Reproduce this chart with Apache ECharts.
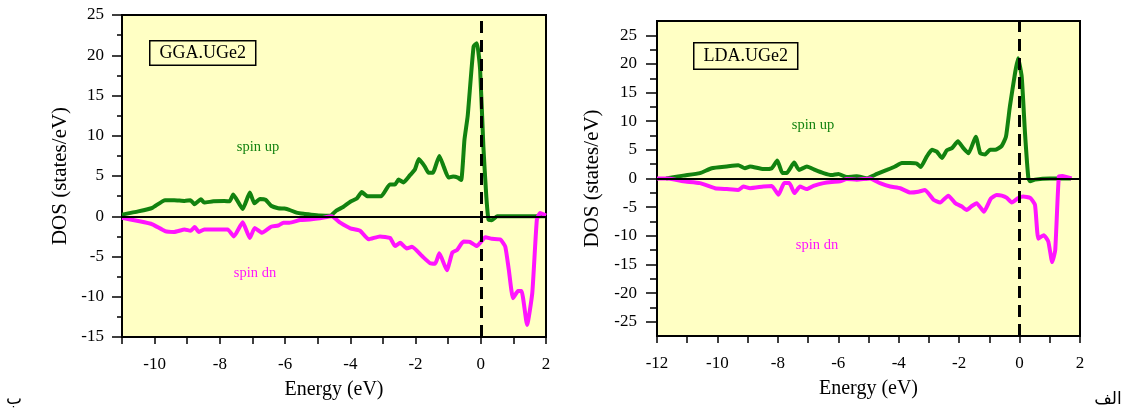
<!DOCTYPE html>
<html>
<head>
<meta charset="utf-8">
<script src="https://cdn.jsdelivr.net/npm/echarts@6/dist/echarts.min.js"></script>
<style>
  html, body { margin: 0; padding: 0; background: #fff; }
  #main { width: 1133px; height: 410px; }
</style>
</head>
<body>
<div id="main"></div>
<script>
// GGA panel (left) - spin up / spin dn
var ggaUpE = [-11, -10.5, -10.07, -9.68, -9.4, -9.08, -8.9, -8.78, -8.58, -8.48, -8.2, -7.87, -7.7, -7.59, -7.3, -7.08, -6.94, -6.77, -6.6, -6.43, -6.21, -6.02, -5.87, -5.65, -5.43, -5.2, -4.93, -4.62, -4.43, -4.22, -4.0, -3.8, -3.65, -3.48, -3.05, -2.79, -2.63, -2.52, -2.37, -2.17, -2.02, -1.9, -1.72, -1.6, -1.47, -1.27, -1.13, -0.99, -0.85, -0.7, -0.6, -0.5, -0.4, -0.22, -0.12, -0.02, 0.08, 0.17, 0.24, 0.34, 0.5, 2.0];
var ggaUpDos = [0.2, 0.6, 1.05, 2.0, 2.0, 1.9, 2.0, 1.5, 2.1, 1.7, 1.85, 1.9, 1.85, 2.7, 0.9, 2.95, 1.6, 2.15, 2.05, 1.3, 1.0, 0.95, 0.8, 0.45, 0.3, 0.2, 0.1, 0.05, 0.7, 1.15, 1.8, 2.2, 3.0, 2.5, 2.5, 3.95, 3.95, 4.55, 4.2, 5.1, 5.8, 7.1, 6.2, 5.4, 5.4, 7.5, 6.1, 4.8, 4.95, 4.8, 4.5, 9.5, 12.5, 21.1, 21.5, 18.2, 8.65, 2.45, -0.45, -0.5, 0, 0];
var ggaDnE = [-11, -10.5, -10.07, -9.68, -9.4, -9.08, -8.9, -8.77, -8.64, -8.48, -8.2, -7.76, -7.57, -7.3, -7.08, -6.93, -6.71, -6.43, -6.21, -6.05, -5.87, -5.54, -5.24, -4.93, -4.57, -4.31, -4.0, -3.7, -3.44, -3.09, -2.78, -2.63, -2.47, -2.27, -2.11, -1.8, -1.55, -1.4, -1.27, -1.04, -0.87, -0.73, -0.53, -0.33, -0.12, 0.14, 0.34, 0.6, 0.75, 0.86, 0.99, 1.14, 1.25, 1.42, 1.58, 1.72, 1.82, 2.0];
var ggaDnDos = [-0.2, -0.6, -1.0, -1.85, -1.95, -1.65, -1.8, -1.35, -1.95, -1.65, -1.65, -1.65, -2.5, -0.75, -2.7, -1.45, -2.05, -1.3, -1.15, -0.8, -0.8, -0.47, -0.4, -0.26, 0, -0.8, -1.5, -1.8, -2.87, -2.5, -2.7, -3.7, -3.3, -4.0, -3.8, -4.95, -5.85, -5.9, -4.6, -6.7, -4.5, -4.2, -3.15, -3.2, -3.7, -2.6, -2.8, -2.9, -3.75, -6.65, -10.2, -9.3, -9.3, -13.5, -9.5, -0.4, 0.4, 0.1];

// LDA panel (right)
var ldaUpE = [-11.7, -11.13, -10.58, -10.19, -9.69, -9.31, -9.09, -8.92, -8.48, -8.2, -8.02, -7.85, -7.71, -7.46, -7.3, -7.04, -6.77, -6.49, -6.22, -6.0, -5.72, -5.39, -5.06, -4.72, -4.39, -4.12, -3.9, -3.62, -3.4, -3.27, -3.07, -2.9, -2.74, -2.57, -2.41, -2.24, -2.04, -1.86, -1.69, -1.45, -1.3, -1.14, -0.98, -0.81, -0.59, -0.45, -0.32, -0.15, -0.05, 0.07, 0.18, 0.29, 0.35, 0.51, 1.0, 1.7];
var ldaUpDos = [0, 0.5, 0.94, 1.8, 2.1, 2.3, 1.8, 2.1, 1.64, 1.8, 3.15, 0.94, 0.94, 2.8, 1.5, 2.1, 1.5, 0.94, 0.6, 0.8, 0.25, 0.4, 0.05, 0.8, 1.5, 2.1, 2.7, 2.7, 2.6, 2.0, 3.85, 5.0, 4.7, 3.6, 4.9, 5.3, 6.5, 5.3, 4.4, 7.3, 4.4, 4.2, 5.0, 5.0, 5.7, 7.3, 12.6, 18.4, 21.0, 17.8, 7.9, 0.1, -0.5, -0.2, 0, 0];
var ldaDnE = [-12, -11.63, -11.13, -10.58, -10.08, -9.69, -9.31, -9.14, -8.92, -8.48, -8.2, -7.98, -7.79, -7.62, -7.45, -7.27, -7.04, -6.82, -6.49, -6.22, -5.94, -5.72, -5.39, -4.95, -4.62, -4.28, -3.95, -3.62, -3.35, -3.13, -2.85, -2.63, -2.36, -2.13, -1.91, -1.75, -1.58, -1.42, -1.18, -0.95, -0.76, -0.59, -0.42, -0.26, -0.04, 0.12, 0.35, 0.51, 0.62, 0.8, 0.95, 1.08, 1.18, 1.3, 1.42, 1.72];
var ldaDnDos = [0, 0, -0.5, -0.8, -1.7, -1.85, -2.0, -1.4, -1.7, -1.4, -1.3, -2.85, -0.8, -0.8, -2.55, -1.4, -1.85, -1.3, -0.8, -0.6, -0.5, -0.1, -0.2, 0, -0.8, -1.4, -1.7, -2.45, -2.3, -2.0, -3.7, -4.2, -3.0, -4.3, -4.9, -5.5, -4.8, -4.3, -5.8, -3.5, -2.9, -3.0, -3.4, -4.2, -3.4, -3.15, -3.4, -4.6, -10.5, -9.9, -11.0, -14.6, -12.5, 0.35, 0.45, 0];

// tick labels for the LDA y axis
var ldaYMajor = [-25, -20, -15, -10, -5, 0, 5, 10, 15, 20, 25];
var ldaYMinor = [-22.5, -17.5, -12.5, -7.5, -2.5, 2.5, 7.5, 12.5, 17.5, 22.5];

var panelLabels = ['GGA.UGe2', 'LDA.UGe2'];

function pairs(xs, ys) {
    return xs.map(function (x, i) { return [x, ys[i]]; });
}

var serif = 'Liberation Serif';
var green = '#12820f';
var pink = '#ff14ff';

function xAxisOf(grid, min) {
    return {
        type: 'value', gridIndex: grid, min: min, max: 2, interval: 1,
        name: 'Energy (eV)', nameLocation: 'middle', nameGap: 43,
        nameTextStyle: { fontFamily: serif, fontSize: 20, color: '#000' },
        axisLine: { onZero: false, lineStyle: { color: '#000', width: 2 } },
        axisTick: { inside: false, length: 7, lineStyle: { color: '#000', width: 1.5 } },
        axisLabel: {
            margin: 19, fontFamily: serif, fontSize: 17, color: '#000',
            formatter: function (v) { return (v % 2 === 0) ? String(v) : ''; }
        },
        splitLine: { show: false }
    };
}

var myChart = echarts.init(document.getElementById('main'), null, { renderer: 'canvas' });

var option = {
    backgroundColor: '#fff',
    animation: false,
    grid: [
        { left: 122, top: 15, width: 424, height: 322, show: true, backgroundColor: '#ffffc4', borderColor: '#000', borderWidth: 2 },
        { left: 657, top: 21, width: 423, height: 315, show: true, backgroundColor: '#ffffc4', borderColor: '#000', borderWidth: 2 }
    ],
    xAxis: [xAxisOf(0, -11), xAxisOf(1, -12)],
    yAxis: [
        {
            type: 'value', gridIndex: 0, min: -15, max: 25, interval: 5,
            name: 'DOS (states/eV)', nameLocation: 'middle', nameGap: 51,
            nameTextStyle: { fontFamily: serif, fontSize: 21, color: '#000' },
            axisLine: { onZero: false, lineStyle: { color: '#000', width: 2 } },
            axisTick: { length: 10, lineStyle: { color: '#000', width: 1.5 } },
            minorTick: { show: true, splitNumber: 2, length: 5, lineStyle: { color: '#000', width: 1.5 } },
            axisLabel: { margin: 18, fontFamily: serif, fontSize: 17, color: '#000' },
            splitLine: { show: false }
        },
        {
            type: 'value', gridIndex: 1, position: 'left', min: -27.5, max: 27.5, interval: 2.5,
            name: 'DOS (states/eV)', nameLocation: 'middle', nameGap: 54,
            nameTextStyle: { fontFamily: serif, fontSize: 21, color: '#000' },
            axisLine: { onZero: false, lineStyle: { color: '#000', width: 2 } },
            axisTick: { customValues: ldaYMajor, length: 11, lineStyle: { color: '#000', width: 1.5 } },
            axisLabel: { customValues: ldaYMajor, margin: 20, fontFamily: serif, fontSize: 17, color: '#000' },
            splitLine: { show: false }
        },
        {
            type: 'value', gridIndex: 1, position: 'left', offset: 0, min: -27.5, max: 27.5, interval: 2.5,
            axisLine: { show: false, onZero: false },
            axisTick: { customValues: ldaYMinor, length: 7, lineStyle: { color: '#000', width: 1.5 } },
            axisLabel: { show: false },
            splitLine: { show: false }
        }
    ],
    series: [
        { type: 'line', xAxisIndex: 0, yAxisIndex: 0, data: pairs(ggaUpE, ggaUpDos), showSymbol: false, smooth: 0.15, lineStyle: { color: green, width: 4 }, z: 3 },
        { type: 'line', xAxisIndex: 0, yAxisIndex: 0, data: pairs(ggaDnE, ggaDnDos), showSymbol: false, smooth: 0.15, lineStyle: { color: pink, width: 4 }, z: 3 },
        { type: 'line', xAxisIndex: 1, yAxisIndex: 1, data: pairs(ldaUpE, ldaUpDos), showSymbol: false, smooth: 0.15, lineStyle: { color: green, width: 4 }, z: 3 },
        { type: 'line', xAxisIndex: 1, yAxisIndex: 1, data: pairs(ldaDnE, ldaDnDos), showSymbol: false, smooth: 0.15, lineStyle: { color: pink, width: 4 }, z: 3 },
        {
            type: 'line', xAxisIndex: 0, yAxisIndex: 0, data: [], z: 5,
            markLine: {
                silent: true, symbol: 'none', label: { show: false },
                data: [
                    { yAxis: 0, lineStyle: { color: '#000', type: 'solid', width: 2 } },
                    { xAxis: 0, lineStyle: { color: '#000', type: [12, 7], width: 3 } }
                ]
            }
        },
        {
            type: 'line', xAxisIndex: 1, yAxisIndex: 1, data: [], z: 5,
            markLine: {
                silent: true, symbol: 'none', label: { show: false },
                data: [
                    { yAxis: 0, lineStyle: { color: '#000', type: 'solid', width: 2 } },
                    { xAxis: 0, lineStyle: { color: '#000', type: [12, 7], width: 3 } }
                ]
            }
        }
    ],
    graphic: [
        { type: 'text', left: 149, top: 40, z: 10, style: { text: panelLabels[0], font: '18px "Liberation Serif"', fill: '#000', backgroundColor: '#ffffc4', borderColor: '#000', borderWidth: 1.5, padding: [3, 9, 2, 9] } },
        { type: 'text', left: 693, top: 42, z: 10, style: { text: panelLabels[1], font: '18px "Liberation Serif"', fill: '#000', backgroundColor: '#ffffc4', borderColor: '#000', borderWidth: 1.5, padding: [4, 9, 3, 9] } },
        { type: 'text', x: 258, y: 147, z: 10, style: { text: 'spin up', font: '14.5px "Liberation Serif"', fill: green, align: 'center', verticalAlign: 'middle' } },
        { type: 'text', x: 255, y: 273, z: 10, style: { text: 'spin dn', font: '14.5px "Liberation Serif"', fill: pink, align: 'center', verticalAlign: 'middle' } },
        { type: 'text', x: 813, y: 125, z: 10, style: { text: 'spin up', font: '14.5px "Liberation Serif"', fill: green, align: 'center', verticalAlign: 'middle' } },
        { type: 'text', x: 817, y: 245, z: 10, style: { text: 'spin dn', font: '14.5px "Liberation Serif"', fill: pink, align: 'center', verticalAlign: 'middle' } },
        { type: 'text', x: 14, y: 400, z: 10, style: { text: 'ب', font: '17px "DejaVu Sans"', fill: '#000', align: 'center', verticalAlign: 'middle' } },
        { type: 'text', x: 1108, y: 400, z: 10, style: { text: 'الف', font: '17px "DejaVu Sans"', fill: '#000', align: 'center', verticalAlign: 'middle' } }
    ]
};

myChart.setOption(option);
</script>
</body>
</html>
